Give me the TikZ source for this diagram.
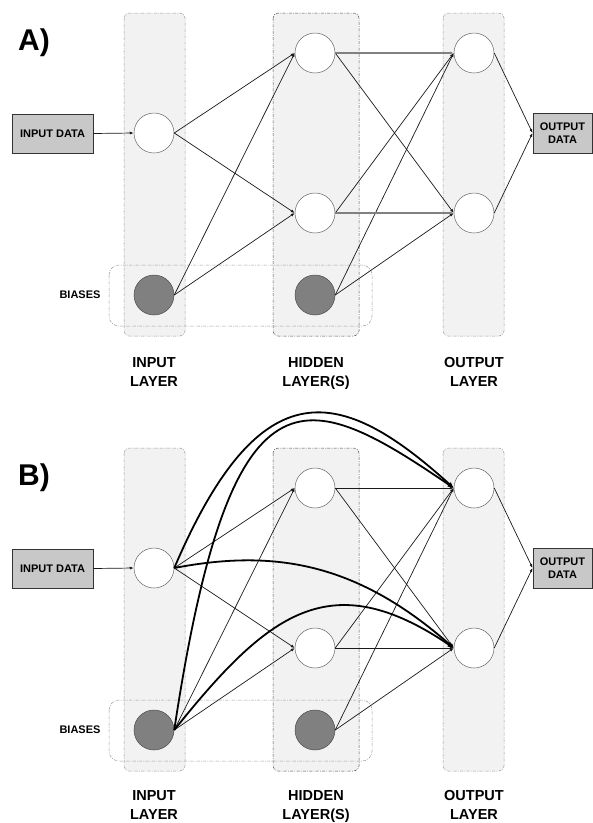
\documentclass[tikz,border=0pt]{standalone}
\usepackage{fontspec}
\setmainfont{Liberation Sans}
\usetikzlibrary{arrows.meta}
\definecolor{colfill}{HTML}{F2F2F2}
\definecolor{colline}{HTML}{9A9A9A}
\definecolor{hidline}{HTML}{505050}
\definecolor{boxfill}{HTML}{C8C8C8}
\definecolor{biasfill}{HTML}{808080}
\definecolor{edgecol}{HTML}{1A1A1A}

% #1 prefix, #2 panel letter, #3 top of the layer labels
\newcommand{\nnpanel}[3]{%
  \path[layercol] (124,13) rectangle (185,336);
  \path[layercol, draw=hidline] (273,13) rectangle (359,336);
  \path[layercol] (443,13) rectangle (504,336);
  \draw[biasbox] (109,265) rectangle (372,326);
  \node[anchor=base west, inner sep=0pt, font=\bfseries\fontsize{30}{30}\selectfont] (#1lab) at (18,50) {#2)};
  \node[neuron] (#1in) at (154,133) {};
  \node[biasn] (#1b1) at (154,295) {};
  \node[neuron] (#1h1) at (315,53) {};
  \node[neuron] (#1h2) at (315,213) {};
  \node[biasn] (#1b2) at (315,295) {};
  \node[neuron] (#1o1) at (474,53) {};
  \node[neuron] (#1o2) at (474,213) {};
  \node[databox, minimum width=81pt, minimum height=39pt] (#1inbox) at (52.5,133.5) {INPUT DATA};
  \node[databox, minimum width=59pt, minimum height=40pt] (#1outbox) at (562.5,133) {OUTPUT\\DATA};
  \node[smalllab] (#1biases) at (80,295) {BIASES};
  \node[layerlab] (#1linput) at (154,#3) {INPUT\\LAYER};
  \node[layerlab] (#1lhidden) at (316,#3) {HIDDEN\\LAYER(S)};
  \node[layerlab] (#1loutput) at (474,#3) {OUTPUT\\LAYER};
  \draw[conn] (#1inbox.east) -- (#1in.west);
  \draw[conn] (#1in.east) -- (#1h1.west);
  \draw[conn] (#1in.east) -- (#1h2.west);
  \draw[conn] (#1b1.east) -- (#1h1.west);
  \draw[conn] (#1b1.east) -- (#1h2.west);
  \draw[conn] (#1h1.east) -- (#1o2.west);
  \draw[conn] (#1h2.east) -- (#1o1.west);
  \draw[conn] (#1b2.east) -- (#1o1.west);
  \draw[conn] (#1b2.east) -- (#1o2.west);
  \draw[conn] (#1o1.east) -- (#1outbox.west);
  \draw[conn] (#1o2.east) -- (#1outbox.west);
}

\begin{document}
\begin{tikzpicture}[x=1pt,y=-1pt,
  ddline/.style={dash pattern=on 3pt off 1.3pt on 0.8pt off 1.3pt},
  layercol/.style={fill=colfill, draw=colline, line width=0.5pt, rounded corners=5pt, ddline},
  biasbox/.style={draw=colline, line width=0.5pt, rounded corners=10pt, ddline},
  neuron/.style={circle, draw=black!60, line width=0.5pt, fill=white, minimum size=40pt, inner sep=0pt},
  biasn/.style={neuron, fill=biasfill, draw=black!70},
  databox/.style={draw=black!80, line width=0.9pt, fill=boxfill, font=\bfseries\fontsize{11}{13}\selectfont, align=center, inner sep=0pt},
  smalllab/.style={font=\bfseries\fontsize{11}{13}\selectfont, inner sep=0pt},
  layerlab/.style={font=\bfseries\fontsize{14.5}{19.5}\selectfont, align=center, inner sep=0pt, anchor=north},
  conn/.style={draw=edgecol, line width=0.7pt, -{Latex[length=4pt,width=3pt]}},
  grayconn/.style={draw=black!50, line width=1.8pt, -{Latex[length=4pt,width=3pt]}},
  skipconn/.style={draw=black, line width=1.8pt, -{Latex[length=6pt,width=5pt]}}
]
\path[fill=white, use as bounding box] (0,0) rectangle (593,823);

\begin{scope}
  \nnpanel{a}{A}{357}
  \draw[grayconn] (ah1.east) -- (ao1.west);
  \draw[grayconn] (ah2.east) -- (ao2.west);
\end{scope}

\begin{scope}[shift={(0,435)}]
  \nnpanel{b}{B}{355}
  \draw[conn] (bh1.east) -- (bo1.west);
  \draw[conn] (bh2.east) -- (bo2.west);
  \draw[skipconn] (bin.east) .. controls (261,-70) and (342,-48) .. (bo1.west);
  \draw[skipconn] (bb1.east) .. controls (231,-81) and (305,-48) .. (bo1.west);
  \draw[skipconn] (bin.east) .. controls (273,114) and (356,127) .. (bo2.west);
  \draw[skipconn] (bb1.east) .. controls (268,178) and (330,129) .. (bo2.west);
\end{scope}
\end{tikzpicture}
\end{document}
